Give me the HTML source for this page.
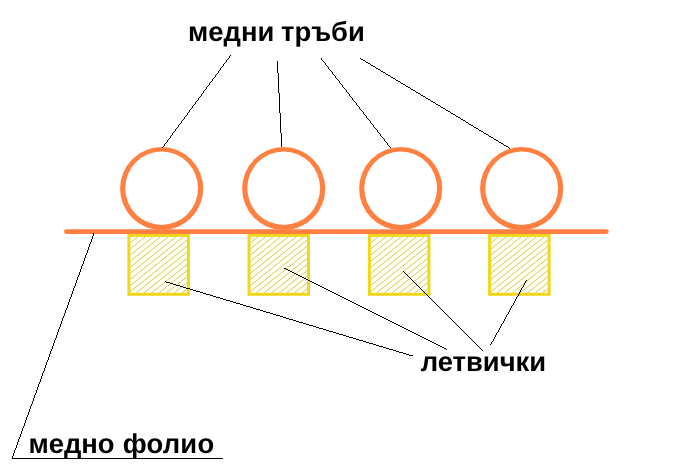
<!DOCTYPE html>
<html>
<head>
<meta charset="utf-8">
<title>медни тръби</title>
<style>
html,body{margin:0;padding:0;background:#fff;}
body{width:680px;height:474px;overflow:hidden;}
svg{display:block;}
text{text-rendering:geometricPrecision;font-family:"Liberation Sans",Arial,sans-serif;font-weight:bold;font-size:27.4px;fill:#000;}
</style>
</head>
<body>
<svg width="680" height="474" viewBox="0 0 680 474">
  <rect width="680" height="474" fill="#fff"/>
  <!-- wooden battens -->
  <g>
    <rect x="128.9" y="235.4" width="59.5" height="58.9" fill="#fffff6"/>
    <path d="M130.3 242.8L137.7 236.8M130.3 248.9L145.4 236.8M130.3 255.0L153.0 236.8M130.3 261.1L160.6 236.8M130.3 267.2L168.2 236.8M130.3 273.3L175.9 236.8M130.3 279.4L183.5 236.8M130.3 285.5L187.0 240.1M130.3 291.6L187.0 246.2M136.2 292.9L187.0 252.3M143.9 292.9L187.0 258.4M151.5 292.9L187.0 264.5M159.1 292.9L187.0 270.6M166.7 292.9L187.0 276.7M174.4 292.9L187.0 282.8M182.0 292.9L187.0 288.9" stroke="#cbbf34" stroke-width="0.85" fill="none"/>
    <rect x="128.9" y="235.4" width="59.5" height="58.9" fill="none" stroke="#f2d61a" stroke-width="3"/>
    <rect x="249.0" y="235.4" width="59.5" height="58.9" fill="#fffff6"/>
    <path d="M250.4 242.8L257.8 236.8M250.4 248.9L265.5 236.8M250.4 255.0L273.1 236.8M250.4 261.1L280.7 236.8M250.4 267.2L288.3 236.8M250.4 273.3L296.0 236.8M250.4 279.4L303.6 236.8M250.4 285.5L307.1 240.1M250.4 291.6L307.1 246.2M256.3 292.9L307.1 252.3M264.0 292.9L307.1 258.4M271.6 292.9L307.1 264.5M279.2 292.9L307.1 270.6M286.8 292.9L307.1 276.7M294.5 292.9L307.1 282.8M302.1 292.9L307.1 288.9" stroke="#cbbf34" stroke-width="0.85" fill="none"/>
    <rect x="249.0" y="235.4" width="59.5" height="58.9" fill="none" stroke="#f2d61a" stroke-width="3"/>
    <rect x="369.4" y="235.4" width="59.5" height="58.9" fill="#fffff6"/>
    <path d="M370.8 242.8L378.2 236.8M370.8 248.9L385.9 236.8M370.8 255.0L393.5 236.8M370.8 261.1L401.1 236.8M370.8 267.2L408.8 236.8M370.8 273.3L416.4 236.8M370.8 279.4L424.0 236.8M370.8 285.5L427.5 240.1M370.8 291.6L427.5 246.2M376.7 292.9L427.5 252.3M384.4 292.9L427.5 258.4M392.0 292.9L427.5 264.5M399.6 292.9L427.5 270.6M407.2 292.9L427.5 276.7M414.9 292.9L427.5 282.8M422.5 292.9L427.5 288.9" stroke="#cbbf34" stroke-width="0.85" fill="none"/>
    <rect x="369.4" y="235.4" width="59.5" height="58.9" fill="none" stroke="#f2d61a" stroke-width="3"/>
    <rect x="489.6" y="235.4" width="59.5" height="58.9" fill="#fffff6"/>
    <path d="M491.0 242.8L498.5 236.8M491.0 248.9L506.1 236.8M491.0 255.0L513.7 236.8M491.0 261.1L521.3 236.8M491.0 267.2L529.0 236.8M491.0 273.3L536.6 236.8M491.0 279.4L544.2 236.8M491.0 285.5L547.7 240.1M491.0 291.6L547.7 246.2M496.9 292.9L547.7 252.3M504.6 292.9L547.7 258.4M512.2 292.9L547.7 264.5M519.8 292.9L547.7 270.6M527.4 292.9L547.7 276.7M535.1 292.9L547.7 282.8M542.7 292.9L547.7 288.9" stroke="#cbbf34" stroke-width="0.85" fill="none"/>
    <rect x="489.6" y="235.4" width="59.5" height="58.9" fill="none" stroke="#f2d61a" stroke-width="3"/>
  </g>
  <!-- copper pipes -->
  <g>
    <circle cx="161.65" cy="188.65" r="41.55" fill="#ff8040"/>
    <ellipse cx="161.65" cy="188.2" rx="36.4" ry="36.7" fill="#fff"/>
    <circle cx="283.7" cy="188.65" r="41.55" fill="#ff8040"/>
    <ellipse cx="283.7" cy="188.2" rx="36.4" ry="36.7" fill="#fff"/>
    <circle cx="400.7" cy="188.65" r="41.55" fill="#ff8040"/>
    <ellipse cx="400.7" cy="188.2" rx="36.4" ry="36.7" fill="#fff"/>
    <circle cx="521.65" cy="188.65" r="41.55" fill="#ff8040"/>
    <ellipse cx="521.65" cy="188.2" rx="36.4" ry="36.7" fill="#fff"/>
  </g>
  <!-- copper foil -->
  <line x1="66.4" y1="231.6" x2="606.3" y2="231.6" stroke="#ff8040" stroke-width="4.8" stroke-linecap="round"/>
  <!-- leader lines -->
  <g fill="#000" stroke="none" shape-rendering="crispEdges">
    <path d="M230 55h1v1h-1zM229 56h1v2h-1zM228 58h1v1h-1zM227 59h1v1h-1zM226 60h1v2h-1zM225 62h1v1h-1zM224 63h1v1h-1zM223 64h1v2h-1zM222 66h1v1h-1zM221 67h1v1h-1zM220 68h1v2h-1zM219 70h1v1h-1zM218 71h1v2h-1zM217 73h1v1h-1zM216 74h1v1h-1zM215 75h1v2h-1zM214 77h1v1h-1zM213 78h1v1h-1zM212 79h1v2h-1zM211 81h1v1h-1zM210 82h1v1h-1zM209 83h1v2h-1zM208 85h1v1h-1zM207 86h1v1h-1zM206 87h1v2h-1zM205 89h1v1h-1zM204 90h1v1h-1zM203 91h1v2h-1zM202 93h1v1h-1zM201 94h1v2h-1zM200 96h1v1h-1zM199 97h1v1h-1zM198 98h1v2h-1zM197 100h1v1h-1zM196 101h1v1h-1zM195 102h1v2h-1zM194 104h1v1h-1zM193 105h1v1h-1zM192 106h1v2h-1zM191 108h1v1h-1zM190 109h1v1h-1zM189 110h1v2h-1zM188 112h1v1h-1zM187 113h1v2h-1zM186 115h1v1h-1zM185 116h1v1h-1zM184 117h1v2h-1zM183 119h1v1h-1zM182 120h1v1h-1zM181 121h1v2h-1zM180 123h1v1h-1zM179 124h1v1h-1zM178 125h1v2h-1zM177 127h1v1h-1zM176 128h1v1h-1zM175 129h1v2h-1zM174 131h1v1h-1zM173 132h1v1h-1zM172 133h1v2h-1zM171 135h1v1h-1zM170 136h1v2h-1zM169 138h1v1h-1zM168 139h1v1h-1zM167 140h1v2h-1zM166 142h1v1h-1zM165 143h1v1h-1zM164 144h1v2h-1zM163 146h1v1h-1zM162 147h1v1h-1z"/>
    <path d="M277 61h1v12h-1zM278 73h1v20h-1zM279 93h1v20h-1zM280 113h1v20h-1zM281 133h1v14h-1z"/>
    <path d="M321 58h1v2h-1zM322 60h1v1h-1zM323 61h1v1h-1zM324 62h1v1h-1zM325 63h1v2h-1zM326 65h1v1h-1zM327 66h1v1h-1zM328 67h1v2h-1zM329 69h1v1h-1zM330 70h1v1h-1zM331 71h1v1h-1zM332 72h1v2h-1zM333 74h1v1h-1zM334 75h1v1h-1zM335 76h1v2h-1zM336 78h1v1h-1zM337 79h1v1h-1zM338 80h1v1h-1zM339 81h1v2h-1zM340 83h1v1h-1zM341 84h1v1h-1zM342 85h1v2h-1zM343 87h1v1h-1zM344 88h1v1h-1zM345 89h1v1h-1zM346 90h1v2h-1zM347 92h1v1h-1zM348 93h1v1h-1zM349 94h1v2h-1zM350 96h1v1h-1zM351 97h1v1h-1zM352 98h1v2h-1zM353 100h1v1h-1zM354 101h1v1h-1zM355 102h1v1h-1zM356 103h1v2h-1zM357 105h1v1h-1zM358 106h1v1h-1zM359 107h1v2h-1zM360 109h1v1h-1zM361 110h1v1h-1zM362 111h1v1h-1zM363 112h1v2h-1zM364 114h1v1h-1zM365 115h1v1h-1zM366 116h1v2h-1zM367 118h1v1h-1zM368 119h1v1h-1zM369 120h1v1h-1zM370 121h1v2h-1zM371 123h1v1h-1zM372 124h1v1h-1zM373 125h1v2h-1zM374 127h1v1h-1zM375 128h1v1h-1zM376 129h1v1h-1zM377 130h1v2h-1zM378 132h1v1h-1zM379 133h1v1h-1zM380 134h1v2h-1zM381 136h1v1h-1zM382 137h1v1h-1zM383 138h1v1h-1zM384 139h1v2h-1zM385 141h1v1h-1zM386 142h1v1h-1zM387 143h1v2h-1zM388 145h1v1h-1zM389 146h1v1h-1zM390 147h1v1h-1z"/>
    <path d="M360 58h1v1h-1zM361 59h2v1h-2zM363 60h2v1h-2zM365 61h1v1h-1zM366 62h2v1h-2zM368 63h2v1h-2zM370 64h1v1h-1zM371 65h2v1h-2zM373 66h2v1h-2zM375 67h1v1h-1zM376 68h2v1h-2zM378 69h2v1h-2zM380 70h1v1h-1zM381 71h2v1h-2zM383 72h2v1h-2zM385 73h1v1h-1zM386 74h2v1h-2zM388 75h2v1h-2zM390 76h1v1h-1zM391 77h2v1h-2zM393 78h2v1h-2zM395 79h1v1h-1zM396 80h2v1h-2zM398 81h2v1h-2zM400 82h1v1h-1zM401 83h2v1h-2zM403 84h2v1h-2zM405 85h1v1h-1zM406 86h2v1h-2zM408 87h2v1h-2zM410 88h1v1h-1zM411 89h2v1h-2zM413 90h2v1h-2zM415 91h1v1h-1zM416 92h2v1h-2zM418 93h2v1h-2zM420 94h1v1h-1zM421 95h2v1h-2zM423 96h2v1h-2zM425 97h1v1h-1zM426 98h2v1h-2zM428 99h2v1h-2zM430 100h1v1h-1zM431 101h2v1h-2zM433 102h2v1h-2zM435 103h1v1h-1zM436 104h2v1h-2zM438 105h2v1h-2zM440 106h1v1h-1zM441 107h2v1h-2zM443 108h2v1h-2zM445 109h1v1h-1zM446 110h2v1h-2zM448 111h2v1h-2zM450 112h1v1h-1zM451 113h2v1h-2zM453 114h2v1h-2zM455 115h1v1h-1zM456 116h2v1h-2zM458 117h2v1h-2zM460 118h1v1h-1zM461 119h2v1h-2zM463 120h2v1h-2zM465 121h1v1h-1zM466 122h2v1h-2zM468 123h1v1h-1zM469 124h2v1h-2zM471 125h2v1h-2zM473 126h1v1h-1zM474 127h2v1h-2zM476 128h2v1h-2zM478 129h1v1h-1zM479 130h2v1h-2zM481 131h2v1h-2zM483 132h1v1h-1zM484 133h2v1h-2zM486 134h2v1h-2zM488 135h1v1h-1zM489 136h2v1h-2zM491 137h2v1h-2zM493 138h1v1h-1zM494 139h2v1h-2zM496 140h2v1h-2zM498 141h1v1h-1zM499 142h2v1h-2zM501 143h2v1h-2zM503 144h1v1h-1zM504 145h2v1h-2zM506 146h2v1h-2zM508 147h1v1h-1zM509 148h1v1h-1z"/>
    <path d="M165 281h1v1h-1zM166 282h4v1h-4zM170 283h3v1h-3zM173 284h3v1h-3zM176 285h4v1h-4zM180 286h3v1h-3zM183 287h3v1h-3zM186 288h4v1h-4zM190 289h3v1h-3zM193 290h3v1h-3zM196 291h4v1h-4zM200 292h3v1h-3zM203 293h3v1h-3zM206 294h4v1h-4zM210 295h3v1h-3zM213 296h3v1h-3zM216 297h4v1h-4zM220 298h3v1h-3zM223 299h3v1h-3zM226 300h4v1h-4zM230 301h3v1h-3zM233 302h3v1h-3zM236 303h4v1h-4zM240 304h3v1h-3zM243 305h3v1h-3zM246 306h4v1h-4zM250 307h3v1h-3zM253 308h3v1h-3zM256 309h4v1h-4zM260 310h3v1h-3zM263 311h3v1h-3zM266 312h4v1h-4zM270 313h3v1h-3zM273 314h3v1h-3zM276 315h4v1h-4zM280 316h3v1h-3zM283 317h3v1h-3zM286 318h3v1h-3zM289 319h4v1h-4zM293 320h3v1h-3zM296 321h3v1h-3zM299 322h4v1h-4zM303 323h3v1h-3zM306 324h3v1h-3zM309 325h4v1h-4zM313 326h3v1h-3zM316 327h3v1h-3zM319 328h4v1h-4zM323 329h3v1h-3zM326 330h3v1h-3zM329 331h4v1h-4zM333 332h3v1h-3zM336 333h3v1h-3zM339 334h4v1h-4zM343 335h3v1h-3zM346 336h3v1h-3zM349 337h4v1h-4zM353 338h3v1h-3zM356 339h3v1h-3zM359 340h4v1h-4zM363 341h3v1h-3zM366 342h3v1h-3zM369 343h4v1h-4zM373 344h3v1h-3zM376 345h3v1h-3zM379 346h4v1h-4zM383 347h3v1h-3zM386 348h3v1h-3zM389 349h4v1h-4zM393 350h3v1h-3zM396 351h3v1h-3zM399 352h4v1h-4zM403 353h3v1h-3zM406 354h3v1h-3zM409 355h4v1h-4z"/>
    <path d="M284 268h2v1h-2zM286 269h2v1h-2zM288 270h2v1h-2zM290 271h2v1h-2zM292 272h2v1h-2zM294 273h2v1h-2zM296 274h2v1h-2zM298 275h2v1h-2zM300 276h2v1h-2zM302 277h2v1h-2zM304 278h2v1h-2zM306 279h2v1h-2zM308 280h2v1h-2zM310 281h2v1h-2zM312 282h2v1h-2zM314 283h2v1h-2zM316 284h2v1h-2zM318 285h2v1h-2zM320 286h2v1h-2zM322 287h2v1h-2zM324 288h2v1h-2zM326 289h2v1h-2zM328 290h2v1h-2zM330 291h2v1h-2zM332 292h2v1h-2zM334 293h2v1h-2zM336 294h2v1h-2zM338 295h2v1h-2zM340 296h2v1h-2zM342 297h2v1h-2zM344 298h2v1h-2zM346 299h2v1h-2zM348 300h2v1h-2zM350 301h2v1h-2zM352 302h2v1h-2zM354 303h2v1h-2zM356 304h2v1h-2zM358 305h2v1h-2zM360 306h2v1h-2zM362 307h2v1h-2zM364 308h2v1h-2zM366 309h2v1h-2zM368 310h2v1h-2zM370 311h2v1h-2zM372 312h2v1h-2zM374 313h2v1h-2zM376 314h2v1h-2zM378 315h2v1h-2zM380 316h2v1h-2zM382 317h2v1h-2zM384 318h2v1h-2zM386 319h2v1h-2zM388 320h2v1h-2zM390 321h2v1h-2zM392 322h2v1h-2zM394 323h2v1h-2zM396 324h2v1h-2zM398 325h2v1h-2zM400 326h2v1h-2zM402 327h2v1h-2zM404 328h2v1h-2zM406 329h2v1h-2zM408 330h2v1h-2zM410 331h2v1h-2zM412 332h2v1h-2zM414 333h2v1h-2zM416 334h2v1h-2zM418 335h2v1h-2zM420 336h2v1h-2zM422 337h2v1h-2zM424 338h2v1h-2zM426 339h2v1h-2zM428 340h2v1h-2zM430 341h2v1h-2zM432 342h2v1h-2zM434 343h2v1h-2zM436 344h2v1h-2zM438 345h2v1h-2zM440 346h2v1h-2zM442 347h2v1h-2zM444 348h2v1h-2zM446 349h1v1h-1z"/>
    <path d="M403 271h1v1h-1zM404 272h1v1h-1zM405 273h1v1h-1zM406 274h1v1h-1zM407 275h1v1h-1zM408 276h1v1h-1zM409 277h1v1h-1zM410 278h1v1h-1zM411 279h1v1h-1zM412 280h1v1h-1zM413 281h1v1h-1zM414 282h1v1h-1zM415 283h1v1h-1zM416 284h1v1h-1zM417 285h1v1h-1zM418 286h1v1h-1zM419 287h1v1h-1zM420 288h1v1h-1zM421 289h1v1h-1zM422 290h1v1h-1zM423 291h1v1h-1zM424 292h1v1h-1zM425 293h1v1h-1zM426 294h1v1h-1zM427 295h1v1h-1zM428 296h1v1h-1zM429 297h1v1h-1zM430 298h1v1h-1zM431 299h1v1h-1zM432 300h1v1h-1zM433 301h1v1h-1zM434 302h1v1h-1zM435 303h1v1h-1zM436 304h1v1h-1zM437 305h1v1h-1zM438 306h1v1h-1zM439 307h1v1h-1zM440 308h1v1h-1zM441 309h1v1h-1zM442 310h1v1h-1zM443 311h1v1h-1zM444 312h1v1h-1zM445 313h1v1h-1zM446 314h1v1h-1zM447 315h1v1h-1zM448 316h1v1h-1zM449 317h1v1h-1zM450 318h1v1h-1zM451 319h1v1h-1zM452 320h1v1h-1zM453 321h1v1h-1zM454 322h1v1h-1zM455 323h1v1h-1zM456 324h1v1h-1zM457 325h1v1h-1zM458 326h1v1h-1zM459 327h1v1h-1zM460 328h1v1h-1zM461 329h1v1h-1zM462 330h1v1h-1zM463 331h1v1h-1zM464 332h1v1h-1zM465 333h1v1h-1zM466 334h1v1h-1zM467 335h1v1h-1zM468 336h1v1h-1zM469 337h1v1h-1zM470 338h1v1h-1zM471 339h1v1h-1zM472 340h1v1h-1zM473 341h1v1h-1zM474 342h1v1h-1zM475 343h1v1h-1zM476 344h1v1h-1zM477 345h1v1h-1zM478 346h1v1h-1zM479 347h1v1h-1zM480 348h1v1h-1zM481 349h1v1h-1zM482 350h1v1h-1z"/>
    <path d="M526 280h1v1h-1zM525 281h1v2h-1zM524 283h1v2h-1zM523 285h1v2h-1zM522 287h1v1h-1zM521 288h1v2h-1zM520 290h1v2h-1zM519 292h1v2h-1zM518 294h1v2h-1zM517 296h1v1h-1zM516 297h1v2h-1zM515 299h1v2h-1zM514 301h1v2h-1zM513 303h1v2h-1zM512 305h1v1h-1zM511 306h1v2h-1zM510 308h1v2h-1zM509 310h1v2h-1zM508 312h1v2h-1zM507 314h1v1h-1zM506 315h1v2h-1zM505 317h1v2h-1zM504 319h1v2h-1zM503 321h1v2h-1zM502 323h1v1h-1zM501 324h1v2h-1zM500 326h1v2h-1zM499 328h1v2h-1zM498 330h1v2h-1zM497 332h1v1h-1zM496 333h1v2h-1zM495 335h1v2h-1zM494 337h1v2h-1zM493 339h1v2h-1zM492 341h1v1h-1zM491 342h1v2h-1zM490 344h1v1h-1z"/>
    <path d="M93 233h1v3h-1zM92 236h1v3h-1zM91 239h1v3h-1zM90 242h1v2h-1zM89 244h1v3h-1zM88 247h1v3h-1zM87 250h1v3h-1zM86 253h1v2h-1zM85 255h1v3h-1zM84 258h1v3h-1zM83 261h1v3h-1zM82 264h1v2h-1zM81 266h1v3h-1zM80 269h1v3h-1zM79 272h1v3h-1zM78 275h1v2h-1zM77 277h1v3h-1zM76 280h1v3h-1zM75 283h1v3h-1zM74 286h1v2h-1zM73 288h1v3h-1zM72 291h1v3h-1zM71 294h1v3h-1zM70 297h1v2h-1zM69 299h1v3h-1zM68 302h1v3h-1zM67 305h1v3h-1zM66 308h1v2h-1zM65 310h1v3h-1zM64 313h1v3h-1zM63 316h1v2h-1zM62 318h1v3h-1zM61 321h1v3h-1zM60 324h1v3h-1zM59 327h1v2h-1zM58 329h1v3h-1zM57 332h1v3h-1zM56 335h1v3h-1zM55 338h1v2h-1zM54 340h1v3h-1zM53 343h1v3h-1zM52 346h1v3h-1zM51 349h1v2h-1zM50 351h1v3h-1zM49 354h1v3h-1zM48 357h1v3h-1zM47 360h1v2h-1zM46 362h1v3h-1zM45 365h1v3h-1zM44 368h1v3h-1zM43 371h1v2h-1zM42 373h1v3h-1zM41 376h1v3h-1zM40 379h1v3h-1zM39 382h1v2h-1zM38 384h1v3h-1zM37 387h1v3h-1zM36 390h1v3h-1zM35 393h1v2h-1zM34 395h1v3h-1zM33 398h1v3h-1zM32 401h1v3h-1zM31 404h1v2h-1zM30 406h1v3h-1zM29 409h1v3h-1zM28 412h1v3h-1zM27 415h1v2h-1zM26 417h1v3h-1zM25 420h1v3h-1zM24 423h1v3h-1zM23 426h1v2h-1zM22 428h1v3h-1zM21 431h1v3h-1zM20 434h1v3h-1zM19 437h1v2h-1zM18 439h1v3h-1zM17 442h1v3h-1zM16 445h1v3h-1zM15 448h1v2h-1zM14 450h1v3h-1zM13 453h1v3h-1zM12 456h1v3h-1z"/>
    <path d="M12 458h211v1h-211z"/>
  </g>
  <g style="filter:grayscale(1)">
  <text y="40.5"><tspan x="188">медни</tspan> <tspan x="281">тръби</tspan></text>
  <text x="420.7" y="371">летвички</text>
  <text y="452.5"><tspan x="28.4">медно</tspan> <tspan x="122.7" style="letter-spacing:0.2px">фолио</tspan></text>
  </g>
</svg>
</body>
</html>
